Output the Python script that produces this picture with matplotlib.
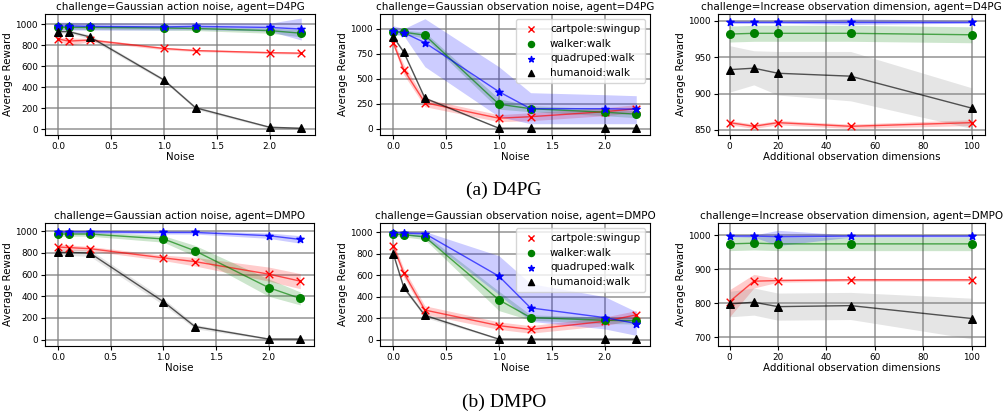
import matplotlib
matplotlib.use("Agg")
import matplotlib.pyplot as plt

noise = [0.0, 0.1, 0.3, 1.0, 1.3, 2.0, 2.3]
dims = [0, 10, 20, 50, 100]

tasks = ['cartpole:swingup', 'walker:walk', 'quadruped:walk', 'humanoid:walk']
colors = ['red', 'green', 'blue', 'black']
fills = ['red', 'green', 'blue', 'gray']
markers = ['x', 'o', '*', '^']

# D4PG, Gaussian action noise: mean, low, high
d4pg_act_mean = [[860, 840, 850, 770, 750, 730, 725],
                 [970, 970, 970, 965, 960, 940, 915],
                 [980, 985, 980, 975, 980, 970, 955],
                 [930, 930, 880, 470, 205, 20, 10]]
d4pg_act_lo = [[845, 800, 835, 758, 740, 720, 715],
               [950, 950, 950, 945, 940, 915, 880],
               [940, 945, 945, 945, 950, 935, 850],
               [915, 915, 860, 455, 190, 10, 0]]
d4pg_act_hi = [[875, 870, 865, 782, 760, 740, 735],
               [990, 990, 990, 985, 980, 965, 950],
               [1020, 1020, 1015, 1010, 1015, 1010, 1060],
               [945, 945, 900, 485, 220, 30, 20]]

# D4PG, Gaussian observation noise
d4pg_obs_mean = [[860, 590, 260, 105, 120, 170, 200],
                 [970, 965, 935, 245, 200, 165, 145],
                 [975, 960, 860, 370, 200, 200, 195],
                 [920, 765, 305, 5, 5, 5, 5]]
d4pg_obs_lo = [[830, 540, 220, 70, 80, 130, 160],
               [945, 945, 905, 195, 170, 130, 110],
               [940, 930, 620, 120, 50, 50, 50],
               [905, 750, 290, 0, 0, 0, 0]]
d4pg_obs_hi = [[890, 640, 300, 140, 160, 210, 240],
               [995, 985, 965, 300, 230, 200, 180],
               [1030, 1000, 1100, 620, 360, 340, 330],
               [935, 780, 320, 10, 10, 10, 10]]

# D4PG, increased observation dimension
d4pg_dim_mean = [[860, 855, 860, 855, 860],
                 [982, 983, 983, 983, 981],
                 [999, 999, 999, 999, 999],
                 [933, 935, 928, 924, 880]]
d4pg_dim_lo = [[857, 852, 857, 852, 856],
               [971, 972, 972, 972, 970],
               [997, 997, 997, 995, 997],
               [902, 912, 898, 890, 852]]
d4pg_dim_hi = [[863, 858, 863, 858, 864],
               [993, 994, 994, 994, 992],
               [1001, 1001, 1001, 1003, 1001],
               [966, 959, 958, 958, 908]]

# DMPO, Gaussian action noise
dmpo_act_mean = [[855, 850, 840, 755, 720, 605, 540],
                 [975, 975, 975, 930, 820, 480, 380],
                 [990, 995, 995, 990, 990, 960, 925],
                 [805, 805, 800, 350, 120, 5, 5]]
dmpo_act_lo = [[830, 825, 820, 730, 680, 540, 470],
               [955, 955, 955, 900, 770, 400, 320],
               [975, 980, 980, 975, 975, 935, 890],
               [775, 775, 770, 320, 100, 0, 0]]
dmpo_act_hi = [[880, 875, 860, 780, 760, 670, 610],
               [995, 995, 995, 960, 870, 560, 440],
               [1005, 1010, 1010, 1005, 1005, 985, 960],
               [835, 835, 830, 380, 140, 15, 15]]

# DMPO, Gaussian observation noise
dmpo_obs_mean = [[870, 620, 275, 130, 95, 170, 230],
                 [980, 975, 955, 370, 205, 180, 175],
                 [995, 990, 985, 590, 295, 205, 150],
                 [800, 485, 225, 5, 5, 5, 5]]
dmpo_obs_lo = [[830, 580, 235, 95, 60, 130, 190],
               [965, 955, 930, 270, 180, 150, 145],
               [980, 975, 950, 420, 170, 100, 40],
               [780, 465, 205, 0, 0, 0, 0]]
dmpo_obs_hi = [[910, 660, 315, 165, 130, 210, 270],
               [995, 995, 980, 450, 230, 210, 205],
               [1005, 1005, 1005, 780, 520, 400, 260],
               [820, 505, 245, 10, 10, 10, 10]]

# DMPO, increased observation dimension
dmpo_dim_mean = [[805, 865, 867, 869, 869],
                 [975, 977, 975, 975, 975],
                 [998, 998, 996, 998, 998],
                 [798, 803, 790, 793, 755]]
dmpo_dim_lo = [[760, 845, 862, 865, 865],
               [955, 957, 955, 955, 955],
               [995, 995, 970, 995, 995],
               [760, 765, 750, 752, 695]]
dmpo_dim_hi = [[840, 885, 872, 873, 873],
               [995, 997, 995, 995, 995],
               [1001, 1001, 1015, 1001, 1001],
               [835, 845, 830, 832, 815]]

panels = [
    ('challenge=Gaussian action noise, agent=D4PG', noise, d4pg_act_mean, d4pg_act_lo, d4pg_act_hi,
     'Noise', [0, 200, 400, 600, 800, 1000], (-54, 1098), False),
    ('challenge=Gaussian observation noise, agent=D4PG', noise, d4pg_obs_mean, d4pg_obs_lo, d4pg_obs_hi,
     'Noise', [0, 250, 500, 750, 1000], (-63, 1147), True),
    ('challenge=Increase observation dimension, agent=D4PG', dims, d4pg_dim_mean, d4pg_dim_lo, d4pg_dim_hi,
     'Additional observation dimensions', [850, 900, 950, 1000], (843, 1009.6), False),
    ('challenge=Gaussian action noise, agent=DMPO', noise, dmpo_act_mean, dmpo_act_lo, dmpo_act_hi,
     'Noise', [0, 200, 400, 600, 800, 1000], (-59, 1077), False),
    ('challenge=Gaussian observation noise, agent=DMPO', noise, dmpo_obs_mean, dmpo_obs_lo, dmpo_obs_hi,
     'Noise', [0, 200, 400, 600, 800, 1000], (-59, 1084), True),
    ('challenge=Increase observation dimension, agent=DMPO', dims, dmpo_dim_mean, dmpo_dim_lo, dmpo_dim_hi,
     'Additional observation dimensions', [700, 800, 900, 1000], (674, 1036.5), False),
]

W, H = 1004, 416
# axes boxes in pixels: left, top, right, bottom
boxes = [(45, 14, 315, 135), (380, 14, 650, 135), (718, 14, 985, 135),
         (45, 223, 314, 346), (380, 223, 650, 346), (718, 223, 985, 346)]

fig = plt.figure(figsize=(W / 100, H / 100), dpi=100)

for (title, x, mean, lo, hi, xlabel, yticks, ylim, legend), (l, t, r, b) in zip(panels, boxes):
    ax = fig.add_axes([l / W, 1 - b / H, (r - l) / W, (b - t) / H])
    ax.grid(True, color='gray', linewidth=1.1, alpha=0.85)
    ax.set_axisbelow(True)
    for i in range(4):
        ax.fill_between(x, lo[i], hi[i], color=fills[i], alpha=0.2, linewidth=0)
        ax.plot(x, mean[i], color=colors[i], linewidth=1.0, alpha=0.65)
        ax.scatter(x, mean[i], color=colors[i], marker=markers[i], s=30,
                   label=tasks[i], zorder=3, linewidths=1.0)
    ax.set_title(title, fontsize=7.5, pad=3)
    ax.set_xlabel(xlabel, fontsize=7.4, labelpad=1)
    ax.set_ylabel('Average Reward', fontsize=7.4, labelpad=2)
    ax.set_yticks(yticks)
    ax.set_ylim(*ylim)
    if x is noise:
        ax.set_xticks([0.0, 0.5, 1.0, 1.5, 2.0])
        ax.set_xlim(-0.125, 2.43)
    else:
        ax.set_xticks([0, 20, 40, 60, 80, 100])
        ax.set_xlim(-4.8, 105.5)
    ax.tick_params(labelsize=6.4, length=3, pad=2)
    if legend:
        ax.legend(loc='upper right', fontsize=7.5, scatterpoints=1, markerscale=0.8,
                  borderpad=0.45, labelspacing=0.45, handletextpad=0.8, framealpha=0.8)

fig.text(504 / W, 1 - 190 / H, '(a) D4PG', ha='center', va='center',
         fontsize=14, family='Liberation Serif')
fig.text(504 / W, 1 - 402 / H, '(b) DMPO', ha='center', va='center',
         fontsize=14, family='Liberation Serif')

fig.savefig('out.png', dpi=100)
